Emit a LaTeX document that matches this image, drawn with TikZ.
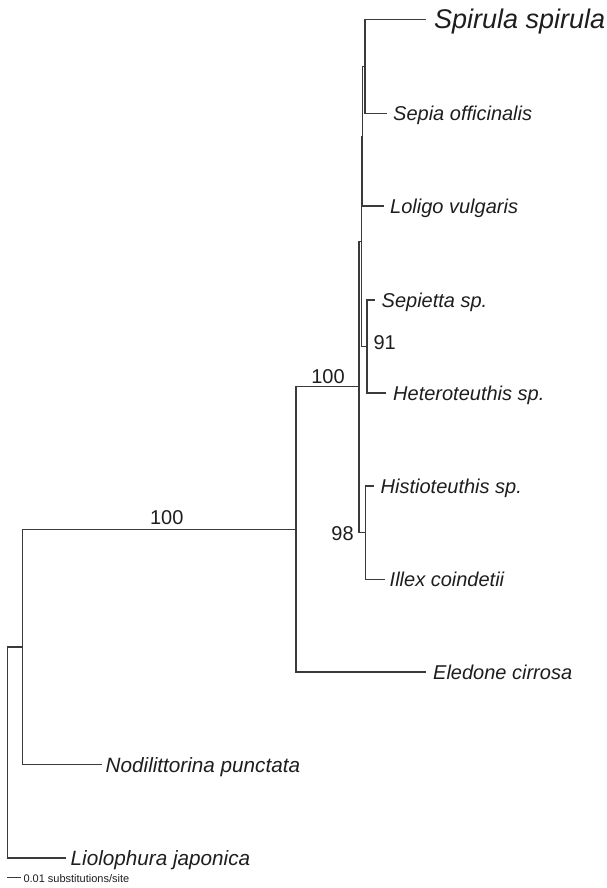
\documentclass[tikz,border=0pt]{standalone}
\usepackage{fontspec}
\setmainfont{Liberation Sans}
\definecolor{linegray}{HTML}{3A3A3A}
\definecolor{txt}{HTML}{1E1E1E}
\begin{document}
\begin{tikzpicture}[x=1pt,y=-1pt,
  branch/.style={draw=linegray, line width=1.3pt, line cap=rect},
  taxon/.style={anchor=west, inner sep=0pt, text height=14.3pt, text depth=0pt,
    font=\fontsize{20}{20}\selectfont\itshape, text=txt},
  lowtaxon/.style={taxon, text height=14.8pt,
    font=\fontsize{20.7}{20.7}\selectfont\itshape},
  bigtaxon/.style={anchor=west, inner sep=0pt, text height=19.3pt, text depth=0pt,
    font=\fontsize{27}{27}\selectfont\itshape, text=txt},
  boot/.style={inner sep=0pt, text height=14.3pt, text depth=0pt,
    font=\fontsize{20}{20}\selectfont, text=txt},
  scaletext/.style={anchor=west, inner sep=0pt, text height=8pt, text depth=0pt,
    font=\fontsize{11}{11}\selectfont, text=txt}]
\useasboundingbox[fill=white] (0,0) rectangle (606,888);

% leaf tips
\coordinate (tSpirula) at (425.7,19.3);
\coordinate (tSepia) at (386,113.3);
\coordinate (tLoligo) at (383,206);
\coordinate (tSepietta) at (374.7,300);
\coordinate (tHetero) at (385.7,393);
\coordinate (tHistio) at (373.7,486);
\coordinate (tIllex) at (384.7,579.3);
\coordinate (tEledone) at (425.7,672);
\coordinate (tNodi) at (101.7,764.7);
\coordinate (tLio) at (65,858);

% internal nodes
\coordinate (A) at (365,66.3);
\coordinate (B) at (362.5,136.2);
\coordinate (N91) at (367,346.5);
\coordinate (C) at (361.5,241.3);
\coordinate (N98) at (365.7,532.7);
\coordinate (F) at (359,386.5);
\coordinate (E) at (296,529.3);
\coordinate (D) at (22.3,647);
\coordinate (R) at (7.3,752.5);

% labels
\node[bigtaxon] (lSpirula) at (434,19.3) {Spirula spirula};
\node[taxon] (lSepia) at (393,113.3) {Sepia officinalis};
\node[taxon] (lLoligo) at (390,206) {Loligo vulgaris};
\node[taxon] (lSepietta) at (381.5,300) {Sepietta sp.};
\node[taxon] (lHetero) at (393,393) {Heteroteuthis sp.};
\node[taxon] (lHistio) at (380.5,486) {Histioteuthis sp.};
\node[taxon] (lIllex) at (389.5,579.3) {Illex coindetii};
\node[taxon] (lEledone) at (433,672) {Eledone cirrosa};
\node[lowtaxon] (lNodi) at (105.5,764.7) {Nodilittorina punctata};
\node[lowtaxon] (lLio) at (70.5,858) {Liolophura japonica};

% branches
\draw[branch] (A) |- (tSpirula);
\draw[branch] (A) |- (tSepia);
\draw[branch] (B) |- (A);
\draw[branch] (B) |- (tLoligo);
\draw[branch] (N91) |- (tSepietta);
\draw[branch] (N91) |- (tHetero);
\draw[branch] (C) |- (B);
\draw[branch] (C) |- (N91);
\draw[branch] (N98) |- (tHistio);
\draw[branch] (N98) |- (tIllex);
\draw[branch] (F) |- (C);
\draw[branch] (F) |- (N98);
\draw[branch] (E) |- (F);
\draw[branch] (E) |- (tEledone);
\draw[branch] (D) |- (E);
\draw[branch] (D) |- (tNodi);
\draw[branch] (R) |- (D);
\draw[branch] (R) |- (tLio);

% bootstrap values
\node[boot] (b100a) at (166.7,517.7) {100};
\node[boot] (b100b) at (328,376) {100};
\node[boot] (b91) at (384.7,342) {91};
\node[boot] (b98) at (342.5,533) {98};

% scale bar
\coordinate (s1) at (7.3,877);
\coordinate (s2) at (20,877);
\draw[branch, line width=1pt] (s1) -- (s2);
\node[scaletext] (scale) at (23.3,878) {0.01 substitutions/site};
\end{tikzpicture}
\end{document}
